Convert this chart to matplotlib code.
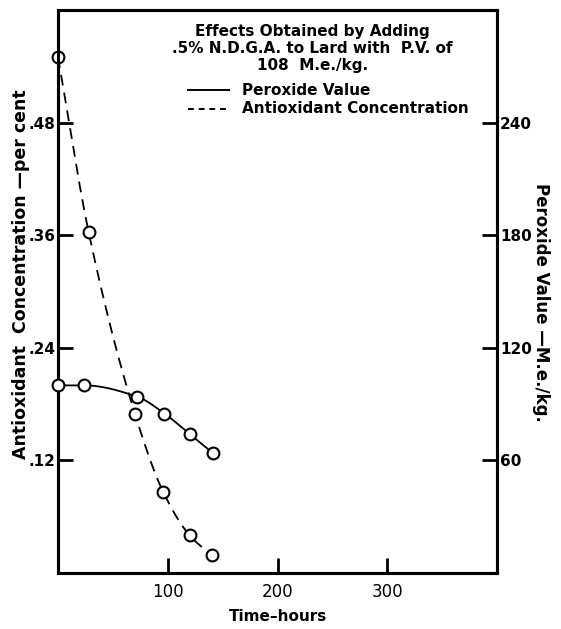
import numpy as np
import matplotlib
matplotlib.use('Agg')
import matplotlib.pyplot as plt

# 数据
hours_ao = [0, 28, 70, 96, 120, 140]
antioxidant = [0.55, 0.363, 0.170, 0.086, 0.040, 0.019]

hours_pv = [0, 24, 72, 97, 120, 141]
peroxide = [100, 100, 94, 85, 74, 64]

left_ticks = [0.12, 0.24, 0.36, 0.48]
left_labels = ['.12', '.24', '.36', '.48']
right_ticks = [60, 120, 180, 240]
x_ticks = [100, 200, 300]


def smooth(x, y, n=30):
    # 单调三次插值（PCHIP），仅用于画平滑的线
    x = np.asarray(x, float)
    y = np.asarray(y, float)
    h = np.diff(x)
    d = np.diff(y) / h
    m = np.zeros_like(y)
    m[0], m[-1] = d[0], d[-1]
    for i in range(1, len(x) - 1):
        if d[i - 1] * d[i] > 0:
            w1 = 2 * h[i] + h[i - 1]
            w2 = h[i] + 2 * h[i - 1]
            m[i] = (w1 + w2) / (w1 / d[i - 1] + w2 / d[i])
    xs, ys = [], []
    for i in range(len(x) - 1):
        t = np.linspace(0, 1, n)
        h00 = 2 * t ** 3 - 3 * t ** 2 + 1
        h10 = t ** 3 - 2 * t ** 2 + t
        h01 = -2 * t ** 3 + 3 * t ** 2
        h11 = t ** 3 - t ** 2
        xs.extend(x[i] + t * h[i])
        ys.extend(h00 * y[i] + h10 * h[i] * m[i] + h01 * y[i + 1] + h11 * h[i] * m[i + 1])
    return np.array(xs), np.array(ys)


plt.rcParams['font.family'] = 'DejaVu Sans'
plt.rcParams['font.weight'] = 'bold'

fig = plt.figure(figsize=(5.61, 6.29), dpi=100)
ax = fig.add_axes([0.1034, 0.089, 0.7826, 0.895])
ax2 = ax.twinx()

ax.set_xlim(0, 400)
ax.set_ylim(0, 0.6)
ax2.set_ylim(0, 300)

# 抗氧化剂浓度（虚线）
sx, sy = smooth(hours_ao, antioxidant)
ax.plot(sx, sy, color='black', lw=1.3, ls=(0, (6, 4)))
ax.plot(hours_ao, antioxidant, 'o', ms=8.5, mfc='white', mec='black', mew=1.5, clip_on=False, zorder=5)

# 过氧化值（实线）
sx, sy = smooth(hours_pv, peroxide)
ax2.plot(sx, sy, color='black', lw=1.3)
ax2.plot(hours_pv, peroxide, 'o', ms=8.5, mfc='white', mec='black', mew=1.5, clip_on=False, zorder=5)

ax.set_xticks(x_ticks)
ax.set_xticklabels([str(v) for v in x_ticks], fontsize=12, fontweight='normal')
ax.set_yticks(left_ticks)
ax.set_yticklabels(left_labels, fontsize=11)
ax2.set_yticks(right_ticks)
ax2.set_yticklabels([str(v) for v in right_ticks], fontsize=11)

ax.tick_params(axis='both', direction='in', length=11, width=2, pad=2)
ax2.tick_params(axis='y', direction='in', length=11, width=2, pad=2)
ax.tick_params(axis='x', pad=7)

for a in (ax, ax2):
    for s in a.spines.values():
        s.set_linewidth(2.2)

ax.set_xlabel('Time–hours', fontsize=11, fontweight='bold', labelpad=6)
ax.set_ylabel('Antioxidant  Concentration —per cent', fontsize=12.5, fontweight='bold', va='center')
ax.yaxis.set_label_coords(-0.085, 0.53)
ax2.set_ylabel('Peroxide Value —M.e./kg.', fontsize=12, fontweight='bold', rotation=-90, va='center')
ax2.yaxis.set_label_coords(1.1, 0.48)

# 标题与图例
ax.text(0.58, 0.975, 'Effects Obtained by Adding\n.5% N.D.G.A. to Lard with  P.V. of\n108  M.e./kg.',
        transform=ax.transAxes, ha='center', va='top', fontsize=11, fontweight='bold', linespacing=1.15)
ax.plot([0.295, 0.39], [0.858, 0.858], transform=ax.transAxes, color='black', lw=1.4)
ax.plot([0.295, 0.39], [0.825, 0.825], transform=ax.transAxes, color='black', lw=1.4, ls=(0, (3, 2.5)))
ax.text(0.42, 0.858, 'Peroxide Value', transform=ax.transAxes, ha='left', va='center',
        fontsize=11, fontweight='bold')
ax.text(0.42, 0.825, 'Antioxidant Concentration', transform=ax.transAxes, ha='left', va='center',
        fontsize=11, fontweight='bold')

fig.savefig('out.png', dpi=100)
